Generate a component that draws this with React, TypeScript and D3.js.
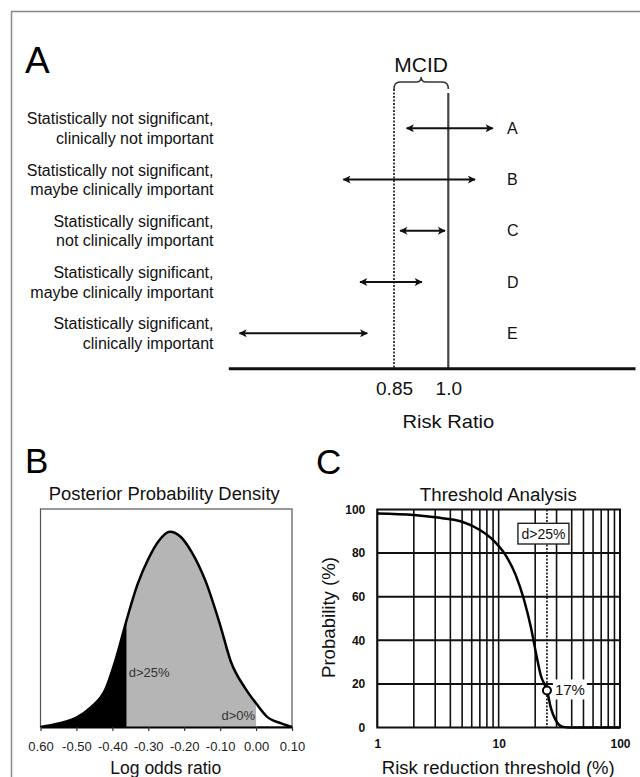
import { useEffect, useRef } from "react";
import * as d3 from "d3";

// Panel A: confidence intervals on the risk ratio scale
const rows = ["A", "B", "C", "D", "E"];
const rowText = [
  ["Statistically not significant,", "clinically not important"],
  ["Statistically not significant,", "maybe clinically important"],
  ["Statistically significant,", "not clinically important"],
  ["Statistically significant,", "maybe clinically important"],
  ["Statistically significant,", "clinically important"],
];
const lowerCI = [0.885, 0.71, 0.867, 0.756, 0.423];
const upperCI = [1.123, 1.074, 0.991, 0.927, 0.776];
const rrTicks = [0.85, 1.0];
const rrTickLabels = ["0.85", "1.0"];
const mcidValue = 0.85;
const nullValue = 1.0;

// Panel B: posterior density of the log odds ratio
const logOdds = [-0.6, -0.55, -0.5, -0.46, -0.42, -0.39, -0.36, -0.33, -0.3, -0.27, -0.24, -0.21, -0.18, -0.14, -0.1, -0.07, -0.03, 0.0, 0.03, 0.07, 0.1];
const density = [0, 0.018, 0.048, 0.1, 0.19, 0.35, 0.55, 0.73, 0.86, 0.955, 1.0, 0.974, 0.898, 0.744, 0.522, 0.334, 0.198, 0.121, 0.053, 0.019, 0];
const cut25 = -0.36;
const cut0 = 0.0;
const lorTicks = [-0.6, -0.5, -0.4, -0.3, -0.2, -0.1, 0.0, 0.1];
const lorTickLabels = ["0.60", "-0.50", "-0.40", "-0.30", "-0.20", "-0.10", "0.00", "0.10"];

// Panel C: threshold analysis
const threshold = [1, 2, 3, 5, 7, 9, 11.4, 13.8, 16.2, 18.4, 20.2, 22.2, 25, 27, 29.5, 33.5, 39, 100];
const probability = [98.2, 97.5, 96.4, 94.4, 90.6, 86.0, 79.1, 70.0, 58.5, 46.2, 34.8, 24.1, 17, 8.8, 3.4, 0.4, 0, 0];
const probTicks = [0, 20, 40, 60, 80, 100];
const thrTicks = [1, 10, 100];
const markX = 25;
const markY = 17;

const FONT = "Arial, 'Liberation Sans', Helvetica, sans-serif";

const App = () => {
  const svgRef = useRef<SVGSVGElement>(null);

  useEffect(() => {
    const svg = d3.select(svgRef.current);
    svg.selectAll("*").remove();
    svg.attr("width", 640).attr("height", 777)
      .style("position", "absolute").style("left", 0).style("top", 0)
      .style("font-family", FONT).style("background", "#fff");

    // frame
    svg.append("path").attr("d", "M11.5,777 L11.5,11.5 L640,11.5")
      .attr("fill", "none").attr("stroke", "#8a8a8a").attr("stroke-width", 1.5);

    const defs = svg.append("defs");
    defs.append("marker")
      .attr("id", "arr")
      .attr("viewBox", "0 0 10 10")
      .attr("refX", 9).attr("refY", 5)
      .attr("markerWidth", 10).attr("markerHeight", 8)
      .attr("markerUnits", "userSpaceOnUse")
      .attr("orient", "auto-start-reverse")
      .append("path").attr("d", "M0,0 L10,5 L0,10 L2.5,5 z").attr("fill", "#111");

    // ---------- Panel A ----------
    const xA = d3.scaleLinear().domain([0.392, 1.516]).range([228.3, 635]);
    const yA = d3.scalePoint().domain(rows).range([128.3, 333.3]);
    const gA = svg.append("g");

    gA.append("text").attr("x", 25).attr("y", 73.3).attr("font-size", 37).text("A");

    const xl = xA(mcidValue), xr = xA(nullValue), mid = (xl + xr) / 2;
    gA.append("text").attr("x", mid).attr("y", 71.7).attr("font-size", 21)
      .attr("text-anchor", "middle").attr("fill", "#111").text("MCID");
    gA.append("path")
      .attr("d", `M${xl},89 Q${xl},82 ${xl + 6},82 L${mid - 5},82 Q${mid},82 ${mid},77 Q${mid},82 ${mid + 5},82 L${xr - 6},82 Q${xr},82 ${xr},89`)
      .attr("fill", "none").attr("stroke", "#333").attr("stroke-width", 1.5);

    gA.append("line").attr("x1", xl).attr("x2", xl).attr("y1", 89).attr("y2", 368)
      .attr("stroke", "#111").attr("stroke-width", 1.6).attr("stroke-dasharray", "2,1.5");
    gA.append("line").attr("x1", xr).attr("x2", xr).attr("y1", 93).attr("y2", 368)
      .attr("stroke", "#444").attr("stroke-width", 2.2);

    const axA = gA.append("g").attr("transform", "translate(0,368.3)")
      .call(d3.axisBottom(xA).tickValues(rrTicks).tickFormat((d, i) => rrTickLabels[i]).tickSize(0).tickPadding(13));
    axA.select(".domain").attr("stroke", "#111").attr("stroke-width", 3);
    axA.selectAll("text").attr("font-size", 19).attr("font-family", FONT).attr("fill", "#111");

    gA.selectAll(".ci").data(rows).enter().append("line")
      .attr("x1", (d, i) => xA(lowerCI[i]))
      .attr("x2", (d, i) => xA(upperCI[i]))
      .attr("y1", (d) => yA(d)!).attr("y2", (d) => yA(d)!)
      .attr("stroke", "#111").attr("stroke-width", 2)
      .attr("marker-start", "url(#arr)").attr("marker-end", "url(#arr)");

    gA.selectAll(".rowlab").data(rows).enter().append("text")
      .attr("x", 507).attr("y", (d) => yA(d)! + 5.5)
      .attr("font-size", 16).attr("fill", "#111").text((d) => d);

    rows.forEach((r, i) => {
      const t = gA.append("text").attr("text-anchor", "end").attr("font-size", 16).attr("fill", "#111");
      t.append("tspan").attr("x", 213.5).attr("y", yA(r)! - 4).text(rowText[i][0]);
      t.append("tspan").attr("x", 213.5).attr("y", yA(r)! + 15.5).text(rowText[i][1]);
    });

    gA.append("text").attr("x", xr).attr("y", 428.3).attr("font-size", 19)
      .attr("text-anchor", "middle").attr("textLength", 91.7).attr("lengthAdjust", "spacingAndGlyphs")
      .attr("fill", "#111").text("Risk Ratio");

    // ---------- Panel B ----------
    const xB = d3.scaleLinear().domain([-0.6, 0.1]).range([40.5, 292]);
    const yB = d3.scaleLinear().domain([0, 1.116]).range([727, 509]);
    const gB = svg.append("g");
    const pts = logOdds.map((v, i) => [v, density[i]] as [number, number]);

    gB.append("text").attr("x", 25).attr("y", 473).attr("font-size", 35).text("B");
    gB.append("text").attr("x", 164.2).attr("y", 500).attr("font-size", 18)
      .attr("text-anchor", "middle").attr("textLength", 231).attr("lengthAdjust", "spacingAndGlyphs")
      .attr("fill", "#111").text("Posterior Probability Density");

    gB.append("rect").attr("x", xB(-0.6)).attr("y", yB.range()[1])
      .attr("width", xB(0.1) - xB(-0.6)).attr("height", yB.range()[0] - yB.range()[1])
      .attr("fill", "none").attr("stroke", "#555").attr("stroke-width", 1.2);

    defs.append("clipPath").attr("id", "clipBlack").append("rect")
      .attr("x", xB(-0.6)).attr("y", 0).attr("width", xB(cut25) - xB(-0.6)).attr("height", 777);
    defs.append("clipPath").attr("id", "clipGray").append("rect")
      .attr("x", xB(cut25)).attr("y", 0).attr("width", xB(cut0) - xB(cut25)).attr("height", 777);

    const area = d3.area<[number, number]>()
      .x((d) => xB(d[0])).y0(yB(0)).y1((d) => yB(d[1])).curve(d3.curveMonotoneX);
    const lineB = d3.line<[number, number]>()
      .x((d) => xB(d[0])).y((d) => yB(d[1])).curve(d3.curveMonotoneX);

    gB.append("path").datum(pts).attr("d", area).attr("fill", "#000").attr("clip-path", "url(#clipBlack)");
    gB.append("path").datum(pts).attr("d", area).attr("fill", "#b5b5b5").attr("clip-path", "url(#clipGray)");
    gB.append("path").datum(pts).attr("d", lineB).attr("fill", "none")
      .attr("stroke", "#000").attr("stroke-width", 2.5);

    gB.append("text").attr("x", xB(cut25) + 2).attr("y", 676.7).attr("font-size", 13)
      .attr("fill", "#333").text("d>25%");
    gB.append("text").attr("x", xB(cut0) - 1).attr("y", 720).attr("font-size", 13)
      .attr("text-anchor", "end").attr("fill", "#333").text("d>0%");

    const axB = gB.append("g").attr("transform", `translate(0,${yB(0)})`)
      .call(d3.axisBottom(xB).tickValues(lorTicks).tickFormat((d, i) => lorTickLabels[i]).tickSize(4).tickSizeOuter(0).tickPadding(11));
    axB.select(".domain").attr("stroke", "#000").attr("stroke-width", 2);
    axB.selectAll("line").attr("stroke", "#333").attr("stroke-width", 1.2);
    axB.selectAll("text").attr("font-size", 13).attr("font-family", FONT).attr("fill", "#222");

    gB.append("text").attr("x", 165.8).attr("y", 774).attr("font-size", 17.5)
      .attr("text-anchor", "middle").attr("fill", "#111").text("Log odds ratio");

    // ---------- Panel C ----------
    const xC = d3.scaleLog().domain([1, 100]).range([377.3, 620]);
    const yC = d3.scaleLinear().domain([0, 100]).range([727.5, 509.5]);
    const gC = svg.append("g");

    gC.append("text").attr("x", 316).attr("y", 473.5).attr("font-size", 35).text("C");
    gC.append("text").attr("x", 498.3).attr("y", 500.5).attr("font-size", 18)
      .attr("text-anchor", "middle").attr("textLength", 157).attr("lengthAdjust", "spacingAndGlyphs")
      .attr("fill", "#111").text("Threshold Analysis");

    gC.selectAll(".vg").data(xC.ticks()).enter().append("line")
      .attr("x1", (d) => xC(d)).attr("x2", (d) => xC(d))
      .attr("y1", yC(100)).attr("y2", yC(0))
      .attr("stroke", "#111").attr("stroke-width", 1.6);
    gC.selectAll(".hg").data(probTicks.slice(1, -1)).enter().append("line")
      .attr("x1", xC(1)).attr("x2", xC(100))
      .attr("y1", (d) => yC(d)).attr("y2", (d) => yC(d))
      .attr("stroke", "#111").attr("stroke-width", 2);
    gC.append("rect").attr("x", xC(1)).attr("y", yC(100))
      .attr("width", xC(100) - xC(1)).attr("height", yC(0) - yC(100))
      .attr("fill", "none").attr("stroke", "#111").attr("stroke-width", 2);

    gC.append("line").attr("x1", xC(markX)).attr("x2", xC(markX))
      .attr("y1", yC(100)).attr("y2", yC(0))
      .attr("stroke", "#111").attr("stroke-width", 1.6).attr("stroke-dasharray", "2,1.5");

    const bx = xC(markX) - 3.5;
    gC.append("rect").attr("x", bx - 25.5).attr("y", 523.3).attr("width", 51).attr("height", 20.7)
      .attr("fill", "#fff").attr("stroke", "#111").attr("stroke-width", 1.3);
    gC.append("text").attr("x", bx).attr("y", 539.3).attr("font-size", 14)
      .attr("text-anchor", "middle").attr("fill", "#111").text("d>25%");

    const cpts = threshold.map((v, i) => [v, probability[i]] as [number, number]);
    gC.append("path").datum(cpts)
      .attr("d", d3.line<[number, number]>().x((d) => xC(d[0])).y((d) => yC(d[1])).curve(d3.curveMonotoneX))
      .attr("fill", "none").attr("stroke", "#000").attr("stroke-width", 2.5);

    gC.append("rect").attr("x", xC(markX) + 6).attr("y", yC(markY) - 11).attr("width", 34).attr("height", 20)
      .attr("fill", "#fff");
    gC.append("circle").attr("cx", xC(markX)).attr("cy", yC(markY)).attr("r", 4)
      .attr("fill", "#fff").attr("stroke", "#000").attr("stroke-width", 2);
    gC.append("text").attr("x", xC(markX) + 8).attr("y", yC(markY) + 5).attr("font-size", 15)
      .attr("fill", "#111").text(`${markY}%`);

    const ayC = gC.append("g").attr("transform", `translate(${xC(1)},0)`)
      .call(d3.axisLeft(yC).tickValues(probTicks).tickSize(0).tickPadding(12));
    ayC.select(".domain").remove();
    ayC.selectAll("text").attr("font-size", 12).attr("font-weight", "bold").attr("font-family", FONT).attr("fill", "#111");

    const axC = gC.append("g").attr("transform", `translate(0,${yC(0)})`)
      .call(d3.axisBottom(xC).tickValues(thrTicks).tickFormat(d3.format("d")).tickSize(0).tickPadding(12));
    axC.select(".domain").remove();
    axC.selectAll("text").attr("font-size", 12).attr("font-weight", "bold").attr("font-family", FONT).attr("fill", "#111");

    gC.append("text").attr("x", 498.3).attr("y", 774).attr("font-size", 18)
      .attr("text-anchor", "middle").attr("textLength", 233).attr("lengthAdjust", "spacingAndGlyphs")
      .attr("fill", "#111").text("Risk reduction threshold (%)");
    gC.append("text").attr("transform", "translate(335,617.5) rotate(-90)").attr("font-size", 18.5)
      .attr("text-anchor", "middle").attr("textLength", 121).attr("lengthAdjust", "spacingAndGlyphs")
      .attr("fill", "#111").text("Probability (%)");
  }, []);

  return <svg ref={svgRef}></svg>;
};

export default App;
